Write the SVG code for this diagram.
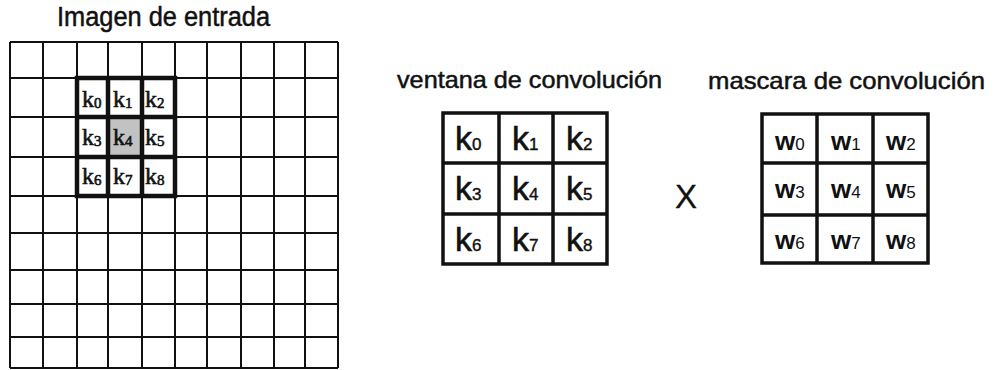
<svg xmlns="http://www.w3.org/2000/svg" width="995" height="370" viewBox="0 0 995 370">
<style>
.title{font-family:"Liberation Sans",Arial,sans-serif;fill:#111;stroke:#111;stroke-width:0.5;}
.thin{stroke:#111;stroke-width:2;fill:none;}
.thick{stroke:#111;stroke-width:4.5;fill:none;}
.mid{stroke:#111;stroke-width:3.5;fill:none;}
.kl{font-family:"Liberation Serif","Times New Roman",serif;font-size:24px;fill:#111;stroke:#111;stroke-width:0.6;}
.kr{font-family:"Liberation Sans",Arial,sans-serif;font-size:34px;fill:#111;stroke:#111;stroke-width:0.6;}
.wr{font-family:"Liberation Sans",Arial,sans-serif;font-size:26px;font-weight:bold;fill:#111;}
.sl{font-size:15px;}
.sr{font-size:17px;font-weight:normal;stroke-width:0.4;}
</style>
<rect width="995" height="370" fill="#fff"/>
<g id="input-image">
  <text class="title" x="57" y="26" font-size="27" textLength="213" lengthAdjust="spacingAndGlyphs">Imagen de entrada</text>
  <rect x="108" y="117" width="34" height="40" fill="#c2c2c2"/>
  <path class="thin" d="M10 42V368M43 42V368M77 42V368M108 42V368M142 42V368M175 42V368M207 42V368M241 42V368M274 42V368M305 42V368M338 42V368"/>
  <path class="thin" d="M10 42H338M10 78H338M10 117H338M10 157H338M10 196H338M10 233H338M10 270H338M10 304H338M10 337H338M10 368H338"/>
  <rect class="thick" x="77" y="78" width="98" height="118"/>
  <path class="thick" d="M108 78V196M142 78V196M77 117H175M77 157H175"/>
  <text class="kl" x="82" y="107">k<tspan class="sl" dy="1">0</tspan></text>
  <text class="kl" x="113" y="107">k<tspan class="sl" dy="1">1</tspan></text>
  <text class="kl" x="145" y="107">k<tspan class="sl" dy="1">2</tspan></text>
  <text class="kl" x="82" y="145">k<tspan class="sl" dy="1">3</tspan></text>
  <text class="kl" x="113" y="145">k<tspan class="sl" dy="1">4</tspan></text>
  <text class="kl" x="145" y="145">k<tspan class="sl" dy="1">5</tspan></text>
  <text class="kl" x="82" y="184">k<tspan class="sl" dy="1">6</tspan></text>
  <text class="kl" x="113" y="184">k<tspan class="sl" dy="1">7</tspan></text>
  <text class="kl" x="145" y="184">k<tspan class="sl" dy="1">8</tspan></text>
</g>
<g id="window">
  <text class="title" x="397" y="88" font-size="24" textLength="265" lengthAdjust="spacingAndGlyphs">ventana de convolución</text>
  <rect class="mid" x="443" y="113" width="164" height="151"/>
  <path class="mid" d="M499 113V264M553 113V264M443 163H607M443 214H607"/>
  <text class="kr" x="455" y="150">k<tspan class="sr">0</tspan></text>
  <text class="kr" x="512" y="150">k<tspan class="sr">1</tspan></text>
  <text class="kr" x="566" y="150">k<tspan class="sr">2</tspan></text>
  <text class="kr" x="455" y="200">k<tspan class="sr">3</tspan></text>
  <text class="kr" x="512" y="200">k<tspan class="sr">4</tspan></text>
  <text class="kr" x="566" y="200">k<tspan class="sr">5</tspan></text>
  <text class="kr" x="455" y="251">k<tspan class="sr">6</tspan></text>
  <text class="kr" x="512" y="251">k<tspan class="sr">7</tspan></text>
  <text class="kr" x="566" y="251">k<tspan class="sr">8</tspan></text>
</g>
<g id="times">
  <text class="title" x="686" y="208" font-size="33" text-anchor="middle" style="stroke-width:0.3">X</text>
</g>
<g id="mask">
  <text class="title" x="708" y="89" font-size="24" textLength="277" lengthAdjust="spacingAndGlyphs">mascara de convolución</text>
  <rect class="mid" x="762" y="114" width="166" height="149"/>
  <path class="mid" d="M817 114V263M873 114V263M762 163H928M762 215H928"/>
  <text class="wr" x="775" y="150">w<tspan class="sr">0</tspan></text>
  <text class="wr" x="831" y="150">w<tspan class="sr">1</tspan></text>
  <text class="wr" x="886" y="150">w<tspan class="sr">2</tspan></text>
  <text class="wr" x="775" y="198">w<tspan class="sr">3</tspan></text>
  <text class="wr" x="831" y="198">w<tspan class="sr">4</tspan></text>
  <text class="wr" x="886" y="198">w<tspan class="sr">5</tspan></text>
  <text class="wr" x="775" y="249">w<tspan class="sr">6</tspan></text>
  <text class="wr" x="831" y="249">w<tspan class="sr">7</tspan></text>
  <text class="wr" x="886" y="249">w<tspan class="sr">8</tspan></text>
</g>
<g id="connectors"></g>
</svg>
